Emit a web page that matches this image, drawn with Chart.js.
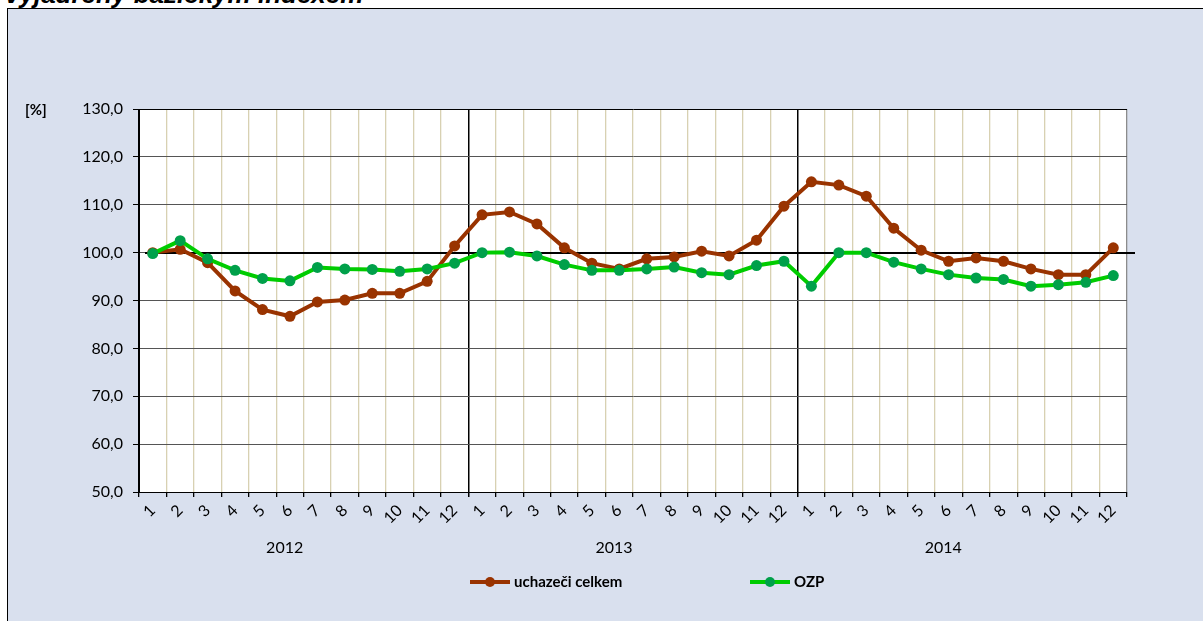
<!DOCTYPE html>
<html><head><meta charset="utf-8">
<script src="https://cdn.jsdelivr.net/npm/chart.js@4"></script>
<style>
html,body{margin:0;padding:0;background:#fff;overflow:hidden;width:1203px;height:621px;}
#title{position:absolute;left:5px;top:-21px;font:italic bold 26px "Liberation Sans",Arial,sans-serif;color:#000;white-space:nowrap;}
#box{position:absolute;left:7px;top:8px;width:1210px;height:630px;background:#d9e0ee;border:1px solid #000;}
#wrap{position:absolute;left:0;top:0;width:1203px;height:621px;}
</style></head><body>
<div id="title">vyjádřený bazickým indexem</div>
<div id="box"></div>
<div id="wrap"><canvas id="c" width="1203" height="621"></canvas></div>
<script>
const years = ['2012', '2013', '2014'];
const months = ['1','2','3','4','5','6','7','8','9','10','11','12'];
const categories = [].concat(months, months, months);
const seriesNames = ['uchazeči celkem', 'OZP'];
const uchazeci = [100.0, 100.7, 97.9, 92.0, 88.1, 86.7, 89.7, 90.1, 91.5, 91.5, 94.0, 101.4,
                  107.9, 108.5, 106.0, 101.0, 97.8, 96.6, 98.7, 99.1, 100.3, 99.3, 102.6, 109.7,
                  114.8, 114.1, 111.8, 105.1, 100.5, 98.2, 98.9, 98.2, 96.6, 95.4, 95.4, 101.0];
const ozp = [99.8, 102.5, 98.7, 96.3, 94.6, 94.1, 96.9, 96.6, 96.5, 96.1, 96.6, 97.8,
             100.0, 100.1, 99.3, 97.5, 96.3, 96.3, 96.6, 97.0, 95.8, 95.4, 97.3, 98.2,
             93.0, 100.0, 100.0, 98.0, 96.6, 95.4, 94.7, 94.4, 93.0, 93.3, 93.8, 95.2];
const referenceValue = [100];
const yTicks = [50, 60, 70, 80, 90, 100, 110, 120, 130];
const unitLabel = '[%]';

const BROWN = '#993300';
const GREEN_LINE = '#00cc00';
const GREEN_PT = '#00a04a';
const FONT = 'Lato, "Noto Sans", sans-serif';

const bgPlugin = {
  id: 'bg',
  beforeDraw(chart) {
    const {ctx, chartArea: a} = chart;
    ctx.save();
    ctx.fillStyle = '#fff';
    ctx.fillRect(a.left, a.top, a.right - a.left, a.bottom - a.top);
    ctx.restore();
  }
};

const refLinePlugin = {
  id: 'refLine',
  beforeDatasetsDraw(chart) {
    const {ctx, chartArea: a, scales} = chart;
    ctx.save();
    ctx.strokeStyle = '#000';
    ctx.lineWidth = 2;
    referenceValue.forEach(v => {
      const y = Math.round(scales.y.getPixelForValue(v));
      ctx.beginPath();
      ctx.moveTo(a.left + 6, y);
      ctx.lineTo(a.right + 8, y);
      ctx.stroke();
    });
    ctx.restore();
  }
};

const extrasPlugin = {
  id: 'extras',
  afterDraw(chart) {
    const {ctx, scales} = chart;
    ctx.save();
    ctx.fillStyle = '#000';
    ctx.font = 'bold 15px ' + FONT;
    ctx.textAlign = 'left';
    ctx.textBaseline = 'middle';
    ctx.fillText(unitLabel, 25, 110);
    ctx.font = '16px ' + FONT;
    ctx.textAlign = 'center';
    years.forEach((yr, i) => {
      const x0 = scales.x.getPixelForValue(i * 12);
      const x1 = scales.x.getPixelForValue(i * 12 + 11);
      ctx.fillText(yr, (x0 + x1) / 2 - 19, 548);
    });
    const items = [
      {x: 470, line: BROWN, pt: BROWN, text: seriesNames[0]},
      {x: 750, line: GREEN_LINE, pt: GREEN_PT, text: seriesNames[1]}
    ];
    const ly = 582;
    items.forEach(it => {
      ctx.strokeStyle = it.line;
      ctx.lineWidth = 4;
      ctx.beginPath();
      ctx.moveTo(it.x, ly);
      ctx.lineTo(it.x + 40, ly);
      ctx.stroke();
      ctx.fillStyle = it.pt;
      ctx.beginPath();
      ctx.arc(it.x + 20, ly, 5, 0, Math.PI * 2);
      ctx.fill();
      ctx.fillStyle = '#000';
      ctx.font = 'bold 15px ' + FONT;
      ctx.textAlign = 'left';
      ctx.fillText(it.text, it.x + 44, ly);
    });
    ctx.restore();
  }
};

new Chart(document.getElementById('c'), {
  type: 'line',
  data: {
    labels: categories,
    datasets: [
      {label: seriesNames[0], data: uchazeci, borderColor: BROWN, backgroundColor: BROWN,
       pointBackgroundColor: BROWN, pointBorderColor: BROWN, borderWidth: 4, pointRadius: 5.5,
       pointBorderWidth: 0, tension: 0, order: 1},
      {label: seriesNames[1], data: ozp, borderColor: GREEN_LINE, backgroundColor: GREEN_PT,
       pointBackgroundColor: GREEN_PT, pointBorderColor: GREEN_PT, borderWidth: 4, pointRadius: 5.5,
       pointBorderWidth: 0, tension: 0, order: 0}
    ]
  },
  options: {
    responsive: false,
    animation: false,
    devicePixelRatio: 1,
    layout: {padding: {left: 79, right: 76, top: 109, bottom: 69}},
    plugins: {legend: {display: false}, tooltip: {enabled: false}},
    scales: {
      x: {
        type: 'category',
        offset: true,
        grid: {
          offset: true,
          drawOnChartArea: true,
          tickLength: 5,
          color: ctx => {
            if (ctx.index === undefined) return '#8c8c8c';
            if (ctx.index === 0) return '#000';
            return (ctx.index % 12 === 0) ? '#000' : '#d8d1b2';
          },
          lineWidth: ctx => (ctx.index !== undefined && ctx.index > 0 && ctx.index % 12 === 0) ? 1.5 : 1.3,
          tickColor: '#000'
        },
        border: {color: '#000', width: 1},
        ticks: {
          minRotation: 45, maxRotation: 45, autoSkip: false, padding: 4,
          color: '#000', font: {family: FONT, size: 16}
        },
        afterFit: s => { s.height = 60; }
      },
      y: {
        min: 50, max: 130,
        afterBuildTicks: s => { s.ticks = yTicks.map(v => ({value: v})); },
        grid: {
          color: ctx => (ctx.tick && ctx.tick.value === 130) ? '#000' : '#555',
          tickLength: 6,
          tickColor: '#000'
        },
        border: {color: '#000', width: 1},
        ticks: {
          padding: 10, color: '#000', font: {family: FONT, size: 16},
          callback: v => Number(v).toFixed(1).replace('.', ',')
        },
        afterFit: s => { s.width = 60; }
      }
    }
  },
  plugins: [bgPlugin, refLinePlugin, extrasPlugin]
});
</script>
</body></html>
